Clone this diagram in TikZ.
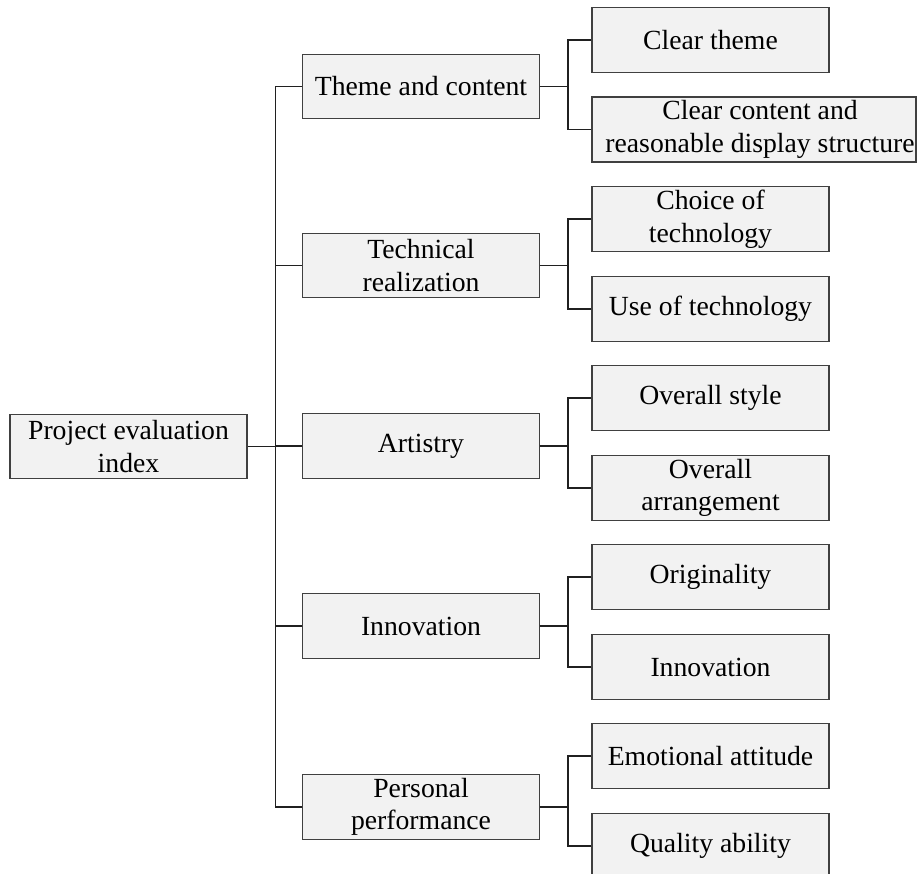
\documentclass[tikz,border=0pt]{standalone}
\usepackage{fontspec}
\setmainfont{Liberation Serif}
\definecolor{boxfill}{HTML}{F2F2F2}
\definecolor{boxline}{HTML}{404040}
\definecolor{conline}{HTML}{202020}
\begin{document}
\begin{tikzpicture}[x=1pt,y=-1pt,
  box/.style={draw=boxline,line width=1.3pt,fill=boxfill,inner sep=0pt,
    minimum width=237pt,minimum height=64.5pt,align=center,
    font=\fontsize{27.7}{32.5}\selectfont},
  conn/.style={draw=conline,line width=1.3pt}]
\useasboundingbox (0,0) rectangle (917,874);
% root
\node[box] (root) at (128.5,446.5) {Project evaluation\\index};
% level 2
\node[box,minimum width=236.5pt] (a) at (421,86.5) {Theme and content};
\node[box,minimum width=236.5pt] (b) at (421,265.5) {Technical\\realization};
\node[box,minimum width=236.5pt] (c) at (421,446) {Artistry};
\node[box,minimum width=236.5pt] (d) at (421,626) {Innovation};
\node[box,minimum width=236.5pt] (e) at (421,807) {Personal\\performance};
% level 3
\node[box] (a1) at (710.5,40) {Clear theme};
\node[box,minimum width=324pt,minimum height=65pt] (a2) at (754,129.5) {\hspace*{12pt}Clear content and\\\hspace*{12pt}reasonable display structure};
\node[box] (b1) at (710.5,219) {Choice of\\technology};
\node[box] (b2) at (710.5,309) {Use of technology};
\node[box] (c1) at (710.5,398) {Overall style};
\node[box] (c2) at (710.5,488) {Overall\\arrangement};
\node[box] (d1) at (710.5,577) {Originality};
\node[box] (d2) at (710.5,667) {Innovation};
\node[box] (e1) at (710.5,756) {Emotional attitude};
\node[box] (e2) at (710.5,846) {Quality ability};
% connectors: root to level 2
\draw[conn] (root.east) -- ++(28,0) coordinate (tr);
\foreach \n in {a,b,c,d,e}{\draw[conn] (\n.west) -| (tr);}
% level 2 to level 3
\foreach \n in {a,b,c,d,e}{
  \draw[conn] (\n.east) -- ++(28,0) coordinate (br\n);
  \draw[conn] (\n1.west) -| (br\n);
  \draw[conn] (\n2.west) -| (br\n);
}
\end{tikzpicture}
\end{document}
